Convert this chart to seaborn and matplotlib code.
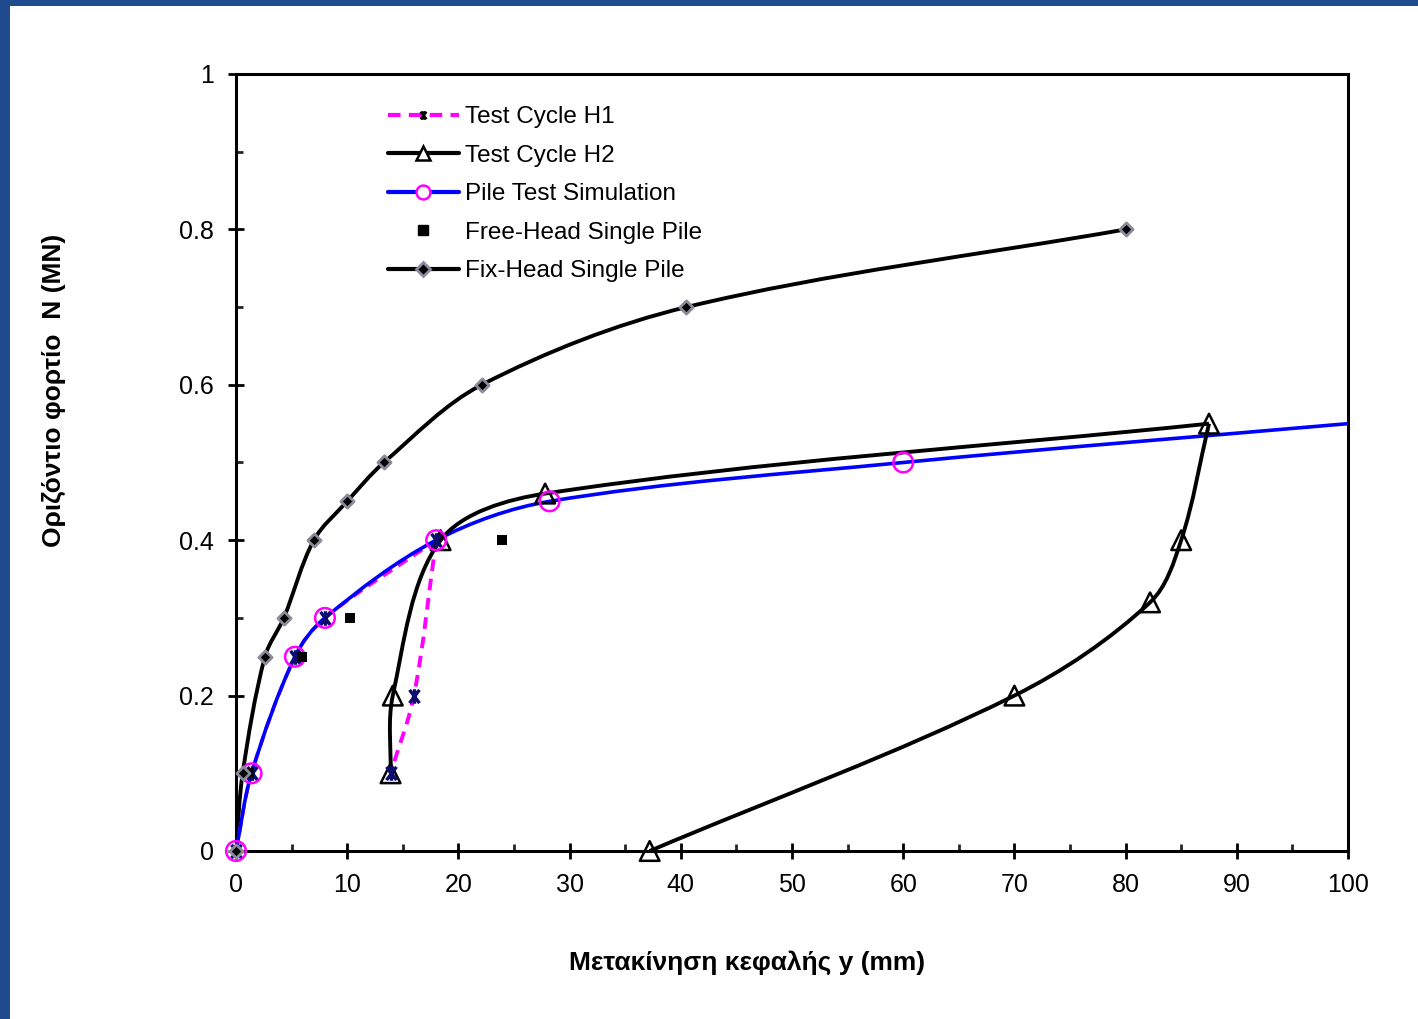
import numpy as np
import matplotlib
matplotlib.use("Agg")
import matplotlib.pyplot as plt
from matplotlib.path import Path
from matplotlib.patches import PathPatch, Rectangle
from matplotlib.lines import Line2D
from matplotlib.ticker import MultipleLocator, FuncFormatter
import seaborn as sns

# Horizontal load N (MN) against pile-head displacement y (mm)
h1_load_y = [0.0, 1.4, 5.3, 8.0, 18.0]
h1_load_n = [0.0, 0.1, 0.25, 0.3, 0.4]
h1_unload_y = [18.0, 16.0, 13.9]
h1_unload_n = [0.4, 0.2, 0.1]

h2_load_y = [13.9, 14.1, 18.4, 27.8, 87.5]
h2_load_n = [0.1, 0.2, 0.4, 0.46, 0.55]
h2_unload_y = [87.5, 85.0, 82.2, 70.0, 37.2]
h2_unload_n = [0.55, 0.4, 0.32, 0.2, 0.0]

sim_y = [0.0, 1.4, 5.3, 8.0, 18.0, 28.2, 60.0, 100.0]
sim_n = [0.0, 0.1, 0.25, 0.3, 0.4, 0.45, 0.5, 0.55]

free_y = [1.2, 5.9, 10.25, 23.9]
free_n = [0.1, 0.25, 0.3, 0.4]

fix_y = [0.0, 0.6, 2.6, 4.3, 7.0, 10.0, 13.3, 22.1, 40.5, 80.0]
fix_n = [0.0, 0.1, 0.25, 0.3, 0.4, 0.45, 0.5, 0.6, 0.7, 0.8]

labels = ["Test Cycle H1", "Test Cycle H2", "Pile Test Simulation",
          "Free-Head Single Pile", "Fix-Head Single Pile"]
x_label = "Μετακίνηση κεφαλής y (mm)"
y_label = "Οριζόντιο φορτίο  N (MN)"

sns.set_theme(style="white")
plt.rcParams["font.family"] = ["Liberation Sans", "DejaVu Sans"]

FIG_W, FIG_H = 1418, 1019
AX_L, AX_B, AX_W, AX_H = 236, 168, 1112, 777
X_MAX, Y_MAX = 100.0, 1.0


def smooth_path(xs, ys):
    """Bezier path through the points; tangents scaled by chord length in screen space."""
    sx, sy = AX_W / X_MAX, AX_H / Y_MAX
    pts = np.column_stack([np.asarray(xs, float) * sx, np.asarray(ys, float) * sy])
    n = len(pts)
    verts = [pts[0]]
    codes = [Path.MOVETO]
    for i in range(n - 1):
        p0 = pts[i - 1] if i > 0 else pts[i]
        p1 = pts[i]
        p2 = pts[i + 1]
        p3 = pts[i + 2] if i + 2 < n else pts[i + 1]
        d01 = np.linalg.norm(p1 - p0)
        d12 = np.linalg.norm(p2 - p1)
        d23 = np.linalg.norm(p3 - p2)
        c1 = p1 + (p2 - p0) * d12 / (d01 + d12) / 3.0
        c2 = p2 - (p3 - p1) * d12 / (d12 + d23) / 3.0
        verts += [c1, c2, p2]
        codes += [Path.CURVE4] * 3
    verts = np.array(verts) / np.array([sx, sy])
    return Path(verts, codes)


def add_curve(ax, xs, ys, **kw):
    patch = PathPatch(smooth_path(xs, ys), facecolor="none",
                      transform=ax.transData, capstyle="butt",
                      joinstyle="round", **kw)
    ax.add_patch(patch)


# asterisk: a cross with a vertical bar through it
star = Path([(-0.75, -1), (0.75, 1), (-0.75, 1), (0.75, -1), (0, -1.1), (0, 1.1)],
            [Path.MOVETO, Path.LINETO, Path.MOVETO, Path.LINETO, Path.MOVETO, Path.LINETO])

fig = plt.figure(figsize=(FIG_W / 100, FIG_H / 100), dpi=100)
fig.patch.set_facecolor("white")

# slide frame
frame = "#1f4a8e"
fig.add_artist(Rectangle((0, 1 - 6 / FIG_H), 1, 6 / FIG_H, transform=fig.transFigure,
                         facecolor=frame, edgecolor="none"))
fig.add_artist(Rectangle((0, 0), 10 / FIG_W, 1, transform=fig.transFigure,
                         facecolor=frame, edgecolor="none"))

ax = fig.add_axes([AX_L / FIG_W, AX_B / FIG_H, AX_W / FIG_W, AX_H / FIG_H])
ax.set_xlim(0, X_MAX)
ax.set_ylim(0, Y_MAX)

# curves
add_curve(ax, fix_y, fix_n, edgecolor="black", linewidth=2.8, zorder=3)
add_curve(ax, h1_load_y, h1_load_n, edgecolor="#ff00ff", linewidth=2.6,
          linestyle=(0, (3, 2)), zorder=3)
add_curve(ax, h1_unload_y, h1_unload_n, edgecolor="#ff00ff", linewidth=2.8,
          linestyle=(0, (3, 2)), zorder=3)
add_curve(ax, sim_y, sim_n, edgecolor="#0000ff", linewidth=2.6, zorder=4)
add_curve(ax, h2_load_y, h2_load_n, edgecolor="black", linewidth=2.8, zorder=4)
add_curve(ax, h2_unload_y, h2_unload_n, edgecolor="black", linewidth=2.8, zorder=4)

# markers
h1_y = h1_load_y + h1_unload_y[1:]
h1_n = h1_load_n + h1_unload_n[1:]
h2_y = h2_load_y + h2_unload_y[1:]
h2_n = h2_load_n + h2_unload_n[1:]
sns.scatterplot(x=h2_y, y=h2_n, ax=ax, marker="^", s=200, facecolor="none",
                edgecolor="black", linewidth=1.8, zorder=6, clip_on=False)
sns.scatterplot(x=h1_y, y=h1_n, ax=ax, marker=star, s=110, color="#0d0d70",
                edgecolor="#0d0d70", linewidth=2.4, zorder=7, clip_on=False)
sns.scatterplot(x=sim_y[:-1], y=sim_n[:-1], ax=ax, marker="o", s=200, facecolor="none",
                edgecolor="#ff00ff", linewidth=1.8, zorder=7, clip_on=False)
sns.scatterplot(x=free_y, y=free_n, ax=ax, marker="s", s=55, color="black",
                edgecolor="black", linewidth=0, zorder=8, clip_on=False)
sns.scatterplot(x=fix_y, y=fix_n, ax=ax, marker="D", s=45, color="black",
                edgecolor="#8a8a9a", linewidth=2, zorder=9, clip_on=False)

# axes styling
for side in ["left", "bottom", "top", "right"]:
    ax.spines[side].set_visible(True)
    ax.spines[side].set_color("black")
    ax.spines[side].set_linewidth(2.2)

ax.xaxis.set_major_locator(MultipleLocator(10))
ax.xaxis.set_minor_locator(MultipleLocator(5))
ax.yaxis.set_major_locator(MultipleLocator(0.2))
ax.yaxis.set_minor_locator(MultipleLocator(0.1))
ax.yaxis.set_major_formatter(FuncFormatter(lambda v, p: f"{v:g}"))
ax.xaxis.set_major_formatter(FuncFormatter(lambda v, p: f"{v:g}"))
ax.tick_params(which="major", direction="inout", length=12, width=2,
               labelsize=18, colors="black", bottom=True, left=True)
ax.tick_params(axis="x", which="major", pad=10)
ax.tick_params(axis="y", which="major", pad=10)
ax.tick_params(which="minor", direction="in", length=5, width=2,
               bottom=True, left=True)
for t in ax.get_xticklabels() + ax.get_yticklabels():
    t.set_color("black")

ax.set_xlabel(x_label, fontsize=19, fontweight="bold", color="black")
ax.set_ylabel(y_label, fontsize=19, fontweight="bold", color="black")
ax.xaxis.set_label_coords(0.4595, -0.128)
ax.yaxis.set_label_coords(-0.1525, 0.593)
ax.grid(False)

handles = [
    Line2D([], [], color="#ff00ff", lw=3, ls=(0, (3, 2)), marker=star,
           ms=6, mec="black", mfc="black", mew=2),
    Line2D([], [], color="black", lw=3, marker="^", ms=10, mfc="white",
           mec="black", mew=1.8),
    Line2D([], [], color="#0000ff", lw=3, marker="o", ms=10, mfc="white",
           mec="#ff00ff", mew=1.8),
    Line2D([], [], color="none", lw=0, marker="s", ms=7, mfc="black", mec="black"),
    Line2D([], [], color="black", lw=3, marker="D", ms=7, mfc="black",
           mec="#8a8a9a", mew=2),
]
leg = ax.legend(handles, labels, loc="upper left", bbox_to_anchor=(0.128, 0.971),
                frameon=False, fontsize=17.5, handlelength=2.9, handletextpad=0.25,
                labelspacing=0.68, borderaxespad=0)
for t in leg.get_texts():
    t.set_color("black")

fig.savefig("out.png", dpi=100, facecolor="white")
